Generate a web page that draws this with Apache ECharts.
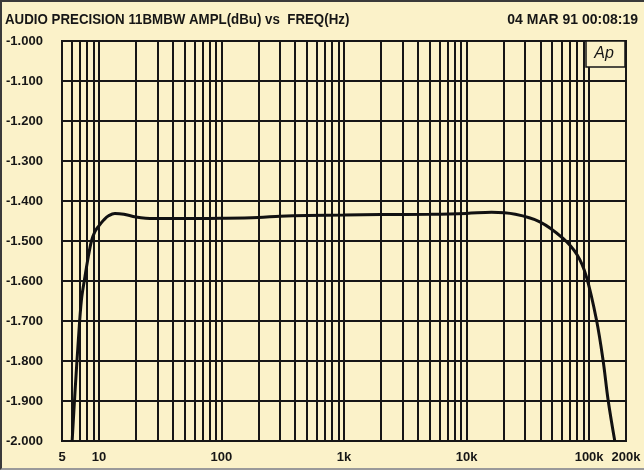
<!DOCTYPE html>
<html>
<head>
<meta charset="utf-8">
<script src="https://cdn.jsdelivr.net/npm/echarts@6/dist/echarts.min.js"></script>
<style>
html, body { margin: 0; padding: 0; background: #fbf2c9; }
#wrap { position: relative; width: 644px; height: 470px; }
#chart { position: absolute; left: 0; top: 0; width: 644px; height: 470px; }
#edge {
  position: absolute; left: 0; top: 0; width: 644px; height: 470px;
  box-sizing: border-box; pointer-events: none;
  border-left: 2px solid #3a3a3a; border-top: 2px solid #3a3a3a;
  border-bottom: 2px solid #9a9a9a;
}
</style>
</head>
<body>
<div id="wrap">
  <div id="chart"></div>
  <div id="edge"></div>
</div>
<script>
// frequency response (Hz, dBu)
var freqs = [6.05, 6.4, 6.8, 7.2, 7.7, 8.2, 8.7, 9.3, 10, 11, 12, 13.5, 16, 20, 28, 50,
  100, 200, 300, 500, 1000, 2000, 5000, 10000, 16000, 25000, 39600, 61000, 80000,
  95000, 115000, 130000, 143000, 162000];
var ampl = [-2.000, -1.872, -1.747, -1.648, -1.589, -1.539, -1.500, -1.476, -1.462, -1.447,
  -1.437, -1.431, -1.433, -1.440, -1.444, -1.444, -1.443, -1.441, -1.438, -1.436,
  -1.435, -1.434, -1.433, -1.431, -1.428, -1.433, -1.452, -1.493, -1.535,
  -1.589, -1.698, -1.798, -1.898, -2.000];

// vertical grid at 1..9 per decade
var gridFreqs = [6, 7, 8, 9, 10, 20, 30, 40, 50, 60, 70, 80, 90, 100, 200, 300, 400, 500,
  600, 700, 800, 900, 1000, 2000, 3000, 4000, 5000, 6000, 7000, 8000, 9000, 10000,
  20000, 30000, 40000, 50000, 60000, 70000, 80000, 90000, 100000];

var yMin = -2.0, yMax = -1.0, yStep = 0.1;

var curve = freqs.map(function (f, i) { return [f, ampl[i]]; });

var ink = '#161616';
var paper = '#fbf2c9';
var chart = echarts.init(document.getElementById('chart'));
chart.setOption({
  animation: false,
  backgroundColor: paper,
  grid: { left: 62, right: 18, top: 41, bottom: 29, show: true, borderColor: ink, borderWidth: 2, backgroundColor: 'transparent' },
  xAxis: {
    type: 'log', logBase: 10, min: 5, max: 200000,
    axisLine: { show: false }, axisTick: { show: false }, splitLine: { show: false },
    axisLabel: {
      margin: 10, color: ink, fontSize: 13, fontWeight: 'bold',
      fontFamily: 'Liberation Sans',
      formatter: function (v) {
        var r = Math.round(v);
        return r >= 1000 ? (r / 1000) + 'k' : String(r);
      }
    }
  },
  yAxis: {
    type: 'value', min: yMin, max: yMax, interval: yStep,
    axisLine: { show: false }, axisTick: { show: false },
    splitLine: { lineStyle: { color: ink, width: 2 } },
    axisLabel: {
      align: 'left', margin: 56, color: ink, fontSize: 13, fontWeight: 'bold',
      fontFamily: 'Liberation Sans',
      formatter: function (v) { return v.toFixed(3); }
    }
  },
  graphic: [
    { type: 'text', x: 5, y: 20, scaleX: 0.95,
      style: { text: 'AUDIO PRECISION 11BMBW AMPL(dBu) vs  FREQ(Hz)', font: 'bold 14px Liberation Sans',
        fill: ink, verticalAlign: 'middle' } },
    { type: 'text', x: 638, y: 20,
      style: { text: '04 MAR 91 00:08:19', font: 'bold 14px Liberation Sans',
        fill: ink, align: 'right', verticalAlign: 'middle' } },
    { type: 'rect', z: 100, shape: { x: 586, y: 41, width: 39, height: 26 },
      style: { fill: paper, stroke: ink, lineWidth: 1.5 } },
    { type: 'text', z: 101, x: 604, y: 54,
      style: { text: 'Ap', font: 'italic 16px Liberation Sans', fill: ink, align: 'center', verticalAlign: 'middle' } }
  ],
  series: [
    {
      type: 'line', data: [], silent: true, z: 1,
      markLine: {
        silent: true, symbol: 'none', animation: false,
        label: { show: false },
        lineStyle: { type: 'solid', color: ink, width: 2 },
        data: gridFreqs.map(function (f) { return { xAxis: f }; })
      }
    },
    {
      type: 'line', data: curve, z: 5, smooth: 0.35, showSymbol: false,
      lineStyle: { color: '#111', width: 3 }
    }
  ]
});
</script>
</body>
</html>
